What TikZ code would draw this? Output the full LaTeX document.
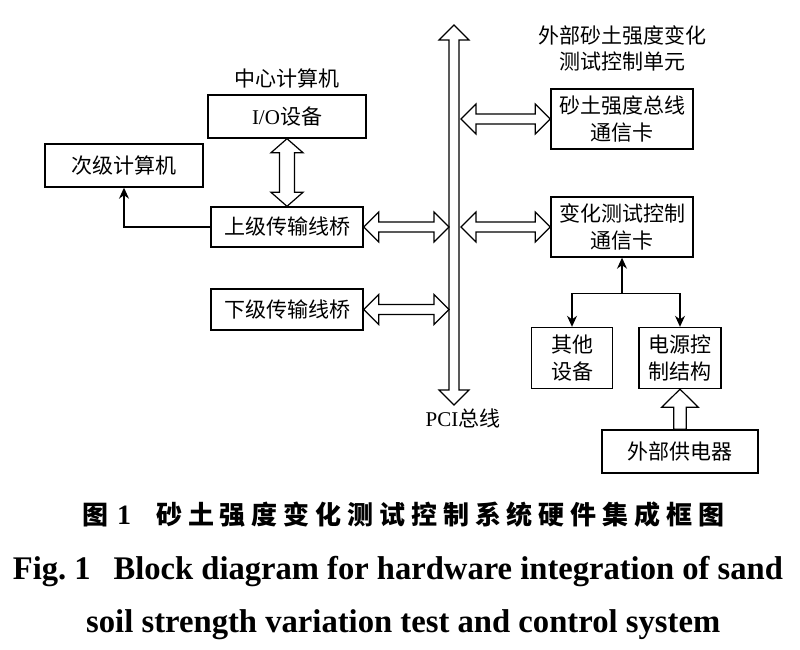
\documentclass[tikz,border=0pt]{standalone}
\usepackage{fontspec}
\usepackage{graphicx}
\setmainfont{Liberation Serif}
\newfontfamily\cjk{Noto Sans CJK SC}
\usetikzlibrary{calc,arrows.meta}
\newcommand\dfont{\fontsize{21}{26.5}\selectfont}
% horizontal hollow double arrow between two points (same y)
\newcommand\hdbl[2]{\draw[hollow] let \p1=(#1), \p2=(#2) in
  (\x1,\y1) -- ({\x1+15pt},{\y1+15pt}) -- ({\x1+15pt},{\y1+5pt}) -- ({\x2-15pt},{\y1+5pt})
  -- ({\x2-15pt},{\y1+15pt}) -- (\x2,\y1) -- ({\x2-15pt},{\y1-15pt}) -- ({\x2-15pt},{\y1-5pt})
  -- ({\x1+15pt},{\y1-5pt}) -- ({\x1+15pt},{\y1-15pt}) -- cycle;}
% vertical hollow double arrow: #1 top, #2 bottom, #3 shaft half, #4 head half, #5 head length
\newcommand\vdbl[5]{\draw[hollow] let \p1=(#1), \p2=(#2) in
  (\x1,\y1) -- ({\x1+#4},{\y1-#5}) -- ({\x1+#3},{\y1-#5}) -- ({\x1+#3},{\y2+#5})
  -- ({\x1+#4},{\y2+#5}) -- (\x1,\y2) -- ({\x1-#4},{\y2+#5}) -- ({\x1-#3},{\y2+#5})
  -- ({\x1-#3},{\y1-#5}) -- ({\x1-#4},{\y1-#5}) -- cycle;}
% single hollow arrow pointing up: #1 bottom (tail), #2 top (tip)
\newcommand\uparr[2]{\draw[hollow] let \p1=(#1), \p2=(#2) in
  (\x1,\y2) -- ({\x1+18.3pt},{\y2-18pt}) -- ({\x1+6.3pt},{\y2-18pt}) -- ({\x1+6.3pt},\y1)
  -- ({\x1-6.3pt},\y1) -- ({\x1-6.3pt},{\y2-18pt}) -- ({\x1-18.3pt},{\y2-18pt}) -- cycle;}
\begin{document}
\begin{tikzpicture}[x=1pt,y=-1pt,
  box/.style={draw,line width=1.4pt,inner sep=0pt,align=center,font=\dfont\cjk},
  hollow/.style={draw,line width=1.2pt,fill=white,line join=miter},
  thinarr/.style={line width=1.3pt,-{Stealth[length=11pt,width=10pt]}},
  lbl/.style={inner sep=0pt,align=center,font=\dfont\cjk}]
\useasboundingbox[fill=white] (0,0) rectangle (800,649);

% boxes
\node[box,minimum width=158pt,minimum height=43pt] (io) at (287,116.5) {{\rmfamily I/O}设备};
\node[box,minimum width=158pt,minimum height=43pt] (sub) at (124,165.5) {次级计算机};
\node[box,minimum width=152pt,minimum height=40pt] (up) at (287,227) {上级传输线桥};
\node[box,minimum width=152pt,minimum height=41pt] (down) at (287,309.5) {下级传输线桥};
\node[box,minimum width=142pt,minimum height=60pt] (sand) at (622,119) {砂土强度总线\\通信卡};
\node[box,minimum width=142pt,minimum height=60pt] (chg) at (622,227) {变化测试控制\\通信卡};
\node[box,minimum width=81pt,minimum height=61pt] (oth) at (572,358) {其他\\设备};
\node[box,minimum width=82pt,minimum height=61pt] (pwr) at (680,358) {电源控\\制结构};
\node[box,minimum width=156pt,minimum height=43pt] (ext) at (680,451.5) {外部供电器};

% labels
\node[lbl] (cc) at (287,78) {中心计算机};
\node[lbl] (eu) at (622,48.5) {外部砂土强度变化\\测试控制单元};
\node[lbl,font=\dfont] (pci) at (463,418) {PCI{\cjk 总线}};

% PCI bus
\coordinate (bt) at (454,25);
\coordinate (bb) at (454,405);
\vdbl{bt}{bb}{5pt}{15pt}{15pt}

% hollow connectors
\vdbl{io.south}{up.north}{7.5pt}{16pt}{14pt}
\hdbl{up.east}{$(up.east -| bt)+(-5pt,0)$}
\hdbl{down.east}{$(down.east -| bt)+(-5pt,0)$}
\hdbl{$(sand.west -| bt)+(7pt,0)$}{sand.west}
\hdbl{$(chg.west -| bt)+(7pt,0)$}{chg.west}
\uparr{ext.north}{pwr.south}

% thin connectors
\draw[thinarr] (up.west) -| (sub.south);
\coordinate (j) at ($(chg.south)+(0,36)$);
\draw[thinarr] (j) -- (chg.south);
\draw[thinarr] (j) -| (oth.north);
\draw[thinarr] (j) -| (pwr.north);

% caption
\node[anchor=west,inner sep=0pt,font=\fontsize{26}{26}\selectfont\cjk\bfseries] (cap1) at (82,515)
  {图\hspace{9pt}{\rmfamily\fontsize{28}{28}\selectfont 1}\hspace{25pt}\makebox[568pt][s]{砂\hfill 土\hfill 强\hfill 度\hfill 变\hfill 化\hfill 测\hfill 试\hfill 控\hfill 制\hfill 系\hfill 统\hfill 硬\hfill 件\hfill 集\hfill 成\hfill 框\hfill 图}};
\node[anchor=base west,inner sep=0pt] (cap2) at (12.7,579)
  {\resizebox{770pt}{\height}{\fontsize{33}{33}\selectfont\bfseries Fig.~1\hspace{0.7em}Block diagram for hardware integration of sand}};
\node[anchor=base west,inner sep=0pt] (cap3) at (86,632)
  {\resizebox{634pt}{\height}{\fontsize{33}{33}\selectfont\bfseries soil strength variation test and control system}};
\end{tikzpicture}
\end{document}
